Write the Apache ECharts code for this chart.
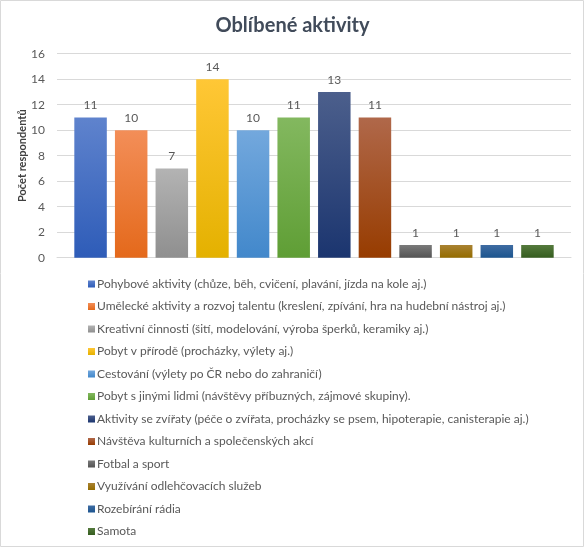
<!DOCTYPE html>
<html>
<head>
<meta charset="utf-8">
<script src="https://cdn.jsdelivr.net/npm/echarts@6/dist/echarts.min.js"></script>
<style>
  html, body { margin: 0; padding: 0; background: #fff; }
  #chart { width: 585px; height: 549px; }
</style>
</head>
<body>
<div id="chart"></div>
<script>
const categories = [
  'Pohybové aktivity (chůze, běh, cvičení, plavání, jízda na kole aj.)',
  'Umělecké aktivity a rozvoj talentu (kreslení, zpívání, hra na hudební nástroj aj.)',
  'Kreativní činnosti (šití, modelování, výroba šperků, keramiky aj.)',
  'Pobyt v přírodě (procházky, výlety aj.)',
  'Cestování (výlety po ČR nebo do zahraničí)',
  'Pobyt s jinými lidmi (návštěvy příbuzných, zájmové skupiny).',
  'Aktivity se zvířaty (péče o zvířata, procházky se psem, hipoterapie, canisterapie aj.)',
  'Návštěva kulturních a společenských akcí',
  'Fotbal a sport',
  'Využívání odlehčovacích služeb',
  'Rozebírání rádia',
  'Samota'
];
const values = [11, 10, 7, 14, 10, 11, 13, 11, 1, 1, 1, 1];
const yTicks = [0, 2, 4, 6, 8, 10, 12, 14, 16];

// [top, bottom, legend swatch]
const colors = [
  ['#5f83cd', '#2e5cb8', '#4472c4'],
  ['#f38e58', '#e4691b', '#ed7d31'],
  ['#b3b3b3', '#8f8f8f', '#a5a5a5'],
  ['#ffc736', '#e4b100', '#ffc000'],
  ['#73a8dd', '#4288cb', '#5b9bd5'],
  ['#83b85f', '#5f9e35', '#70ad47'],
  ['#4c5f8c', '#1b356f', '#264478'],
  ['#b0684a', '#973c00', '#9e480e'],
  ['#7a7a7a', '#545454', '#636363'],
  ['#a98232', '#946c00', '#997300'],
  ['#3f6ca2', '#1c558f', '#255e91'],
  ['#557a3d', '#355d1f', '#43682b']
];

const chart = echarts.init(document.getElementById('chart'));

const series = categories.map((name, i) => ({
  name: name,
  type: 'bar',
  barWidth: 32.5,
  barGap: '25%',
  data: [values[i]],
  itemStyle: {
    color: new echarts.graphic.LinearGradient(0, 0, 0, 1, [
      { offset: 0, color: colors[i][0] },
      { offset: 1, color: colors[i][1] }
    ])
  },
  label: {
    show: true,
    position: 'top',
    distance: 6,
    color: '#595959',
    fontFamily: 'Lato',
    fontSize: 12
  }
}));

chart.setOption({
  animation: false,
  color: colors.map((c) => c[2]),
  title: {
    text: 'Oblíbené aktivity',
    left: 'center',
    top: 11,
    textStyle: {
      fontFamily: 'Lato',
      fontWeight: 'bold',
      fontSize: 20,
      color: '#414b5a'
    }
  },
  graphic: [{
    type: 'rect',
    shape: { x: 0.5, y: 0.5, width: 583, height: 546 },
    style: { fill: 'none', stroke: '#d9d9d9', lineWidth: 1 },
    silent: true
  }],
  grid: {
    left: 57,
    right: 14,
    top: 53.7,
    bottom: 291.3
  },
  xAxis: {
    type: 'category',
    data: [''],
    axisLine: { lineStyle: { color: '#d9d9d9' } },
    axisTick: { show: false },
    axisLabel: { show: false }
  },
  yAxis: {
    type: 'value',
    min: yTicks[0],
    max: yTicks[yTicks.length - 1],
    interval: 2,
    name: 'Počet respondentů',
    nameLocation: 'middle',
    nameGap: 29,
    nameMoveOverlap: false,
    nameTextStyle: {
      fontFamily: 'Lato',
      fontWeight: 'bold',
      fontSize: 11,
      color: '#404040'
    },
    axisLine: { show: false },
    axisTick: { show: false },
    axisLabel: {
      color: '#595959',
      fontFamily: 'Lato',
      fontSize: 12,
      margin: 12
    },
    splitLine: { lineStyle: { color: '#d9d9d9' } }
  },
  legend: {
    orient: 'vertical',
    left: 88,
    top: 277,
    padding: 0,
    itemWidth: 7,
    itemHeight: 7,
    itemGap: 8.5,
    icon: 'rect',
    textStyle: {
      fontFamily: 'Lato',
      fontSize: 12,
      color: '#595959',
      lineHeight: 14,
      padding: [0, 0, 0, -3]
    },
    data: categories
  },
  series: series
});
</script>
</body>
</html>
